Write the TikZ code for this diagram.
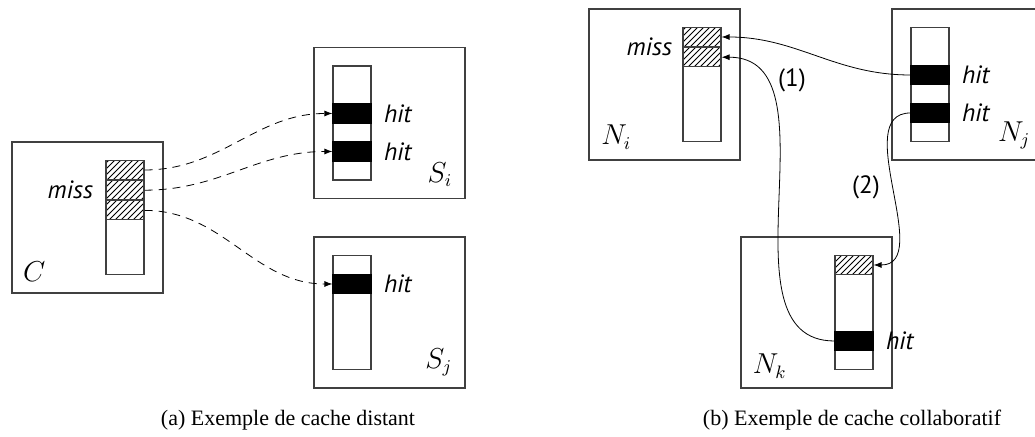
\documentclass[tikz,border=0pt]{standalone}
\usepackage{fontspec}
\setmainfont{Liberation Serif}
\newfontfamily\hitfont{PT Sans}
\usetikzlibrary{positioning,patterns,arrows.meta}

\begin{document}
\begin{tikzpicture}[x=0.5pt, y=-0.5pt, >={Latex[length=4pt,width=3pt]},
    box/.style={draw=black!75, line width=.6pt, minimum width=75.5pt, minimum height=75.5pt, inner sep=0pt},
    col/.style={draw=black!75, line width=.6pt, minimum width=19pt, minimum height=57pt, inner sep=0pt},
    miss/.style={draw=black!75, line width=.6pt, pattern=north east lines, minimum width=19pt, minimum height=9.5pt, inner sep=0pt},
    hit/.style={draw, fill=black, line width=.6pt, minimum width=19pt, minimum height=9.5pt, inner sep=0pt},
    word/.style={inner sep=0pt, font=\hitfont\itshape\fontsize{12.5}{14}\selectfont},
    step no/.style={inner sep=0pt, font=\hitfont\fontsize{12.5}{14}\selectfont},
    tag/.style={inner sep=0pt, font=\fontsize{13.5}{16}\selectfont},
    subcap/.style={inner sep=0pt, font=\fontsize{11}{13}\selectfont}]
  \useasboundingbox (0,0) rectangle (1035,437);

  % (a) cache distant
  \node[box] (boxC)  at (87.5,217.5) {};
  \node[box] (boxSi) at (389.5,123) {};
  \node[box] (boxSj) at (389.5,312.5) {};
  \node[col, anchor=east] (colC)  at ([xshift=-9.5pt]boxC.east) {};
  \node[col, anchor=west] (colSi) at ([xshift=9.5pt]boxSi.west) {};
  \node[col, anchor=west] (colSj) at ([xshift=9.5pt]boxSj.west) {};

  \node[miss, anchor=north] (mC1) at (colC.north) {};
  \node[miss, below=0pt of mC1] (mC2) {};
  \node[miss, below=0pt of mC2] (mC3) {};
  \node[hit, anchor=north] (hSi1) at ([yshift=-19pt]colSi.north) {};
  \node[hit, anchor=north] (hSi2) at ([yshift=-38pt]colSi.north) {};
  \node[hit, anchor=north] (hSj1) at ([yshift=-9.5pt]colSj.north) {};

  \node[word, anchor=east] (wC)   at ([xshift=-6pt]mC2.west) {miss};
  \node[word, anchor=west] (wSi1) at ([xshift=6pt]hSi1.east) {hit};
  \node[word, anchor=west] (wSi2) at ([xshift=6pt]hSi2.east) {hit};
  \node[word, anchor=west] (wSj1) at ([xshift=6pt]hSj1.east) {hit};
  \node[tag, anchor=south west] (tC)  at ([shift={(5.7pt,5.7pt)}]boxC.south west) {$C$};
  \node[tag, anchor=south east] (tSi) at ([shift={(-6.5pt,6pt)}]boxSi.south east) {$S_i$};
  \node[tag, anchor=south east] (tSj) at ([shift={(-6.5pt,6pt)}]boxSj.south east) {$S_j$};

  \draw[->, dash pattern=on 4pt off 3pt] (mC1.east) to[out=0,in=180] (hSi1.west);
  \draw[->, dash pattern=on 4pt off 3pt] (mC2.east) to[out=0,in=180] (hSi2.west);
  \draw[->, dash pattern=on 4pt off 3pt] (mC3.east) to[out=0,in=180] (hSj1.west);

  % (b) cache collaboratif
  \node[box] (boxNi) at (664.5,84.5) {};
  \node[box] (boxNj) at (967.5,84.5) {};
  \node[box] (boxNk) at (816.5,312.5) {};
  \node[col, anchor=east] (colNi) at ([xshift=-9.5pt]boxNi.east) {};
  \node[col, anchor=west] (colNj) at ([xshift=9.5pt]boxNj.west) {};
  \node[col, anchor=east] (colNk) at ([xshift=-9.5pt]boxNk.east) {};

  \node[miss, anchor=north] (mNi1) at (colNi.north) {};
  \node[miss, below=0pt of mNi1] (mNi2) {};
  \node[hit, anchor=north] (hNj1) at ([yshift=-19pt]colNj.north) {};
  \node[hit, anchor=north] (hNj2) at ([yshift=-38pt]colNj.north) {};
  \node[miss, anchor=north] (mNk1) at (colNk.north) {};
  \node[hit, anchor=north] (hNk1) at ([yshift=-38pt]colNk.north) {};

  \node[word, anchor=east] (wNi)  at ([xshift=-5pt]mNi1.south west) {miss};
  \node[word, anchor=west] (wNj1) at ([xshift=6pt]hNj1.east) {hit};
  \node[word, anchor=west] (wNj2) at ([xshift=6pt]hNj2.east) {hit};
  \node[word, anchor=west] (wNk1) at ([xshift=6pt]hNk1.east) {hit};
  \node[tag, anchor=south west] (tNi) at ([shift={(6.3pt,5.5pt)}]boxNi.south west) {$N_i$};
  \node[tag, anchor=south east] (tNj) at ([shift={(-6.5pt,5.5pt)}]boxNj.south east) {$N_j$};
  \node[tag, anchor=south west] (tNk) at ([shift={(6pt,5pt)}]boxNk.south west) {$N_k$};

  \draw[->] (hNj1.west) to[out=180,in=0] (mNi1.east);
  \draw[->] (hNk1.west) to[out=180,in=0] (mNi2.east);
  \draw[->] (hNj2.west) to[out=180,in=0] (mNk1.east);
  \node[step no] (s1) at (792,80) {(1)};
  \node[step no] (s2) at (866,187) {(2)};

  \node[subcap, anchor=base] (capA) at (288,426) {(a) Exemple de cache distant};
  \node[subcap, anchor=base] (capB) at (852,426) {(b) Exemple de cache collaboratif};
\end{tikzpicture}
\end{document}
